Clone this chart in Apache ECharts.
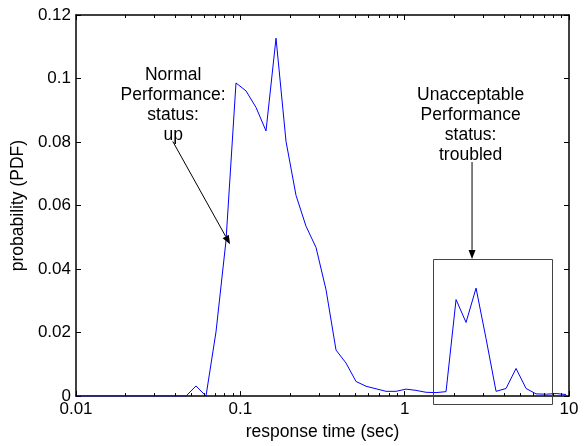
<!DOCTYPE html>
<html>
<head>
<meta charset="utf-8">
<script src="https://cdn.jsdelivr.net/npm/echarts@6/dist/echarts.min.js"></script>
<style>
html,body{margin:0;padding:0;background:#fff;}
#c{width:586px;height:446px;}
</style>
</head>
<body>
<div id="c"></div>
<script>
// response time bins (sec), log-spaced
const responseTimes = [
  0.0100, 0.0115, 0.0132, 0.0152, 0.0175, 0.0202, 0.0232, 0.0267, 0.0307, 0.0353,
  0.0406, 0.0467, 0.0537, 0.0618, 0.0711, 0.0818, 0.0941, 0.1083, 0.1246, 0.1433,
  0.1649, 0.1897, 0.2182, 0.2510, 0.2888, 0.3322, 0.3822, 0.4397, 0.5059, 0.5820,
  0.6695, 0.7702, 0.8861, 1.0194, 1.1727, 1.3491, 1.5524, 1.7855, 2.0545, 2.3632,
  2.7189, 3.1280, 3.5983, 4.1400, 4.7620, 5.4790, 6.3040, 7.2510, 8.3430, 9.5970
];
// probability (PDF)
const probability = [
  0, 0, 0, 0, 0, 0, 0, 0, 0, 0,
  0, 0, 0.0032, 0, 0.0202, 0.0489, 0.0986, 0.0961, 0.0909, 0.0835,
  0.1127, 0.0802, 0.0632, 0.0535, 0.0468, 0.0335, 0.0145, 0.0104, 0.0046, 0.0031,
  0.0023, 0.0015, 0.0015, 0.0022, 0.0018, 0.0012, 0.0011, 0.0014, 0.0304, 0.0232,
  0.0340, 0.0181, 0.0015, 0.0024, 0.0087, 0.0024, 0.0007, 0.0006, 0.0008, 0.0005
];
const xTickLabels = ['0.01', '0.1', '1', '10'];
const yTickLabels = ['0', '0.02', '0.04', '0.06', '0.08', '0.1', '0.12'];
const xMinorTicks = [0.02,0.03,0.04,0.05,0.06,0.07,0.08,0.09,0.2,0.3,0.4,0.5,0.6,0.7,0.8,0.9,2,3,4,5,6,7,8,9];

const FONT = '"Liberation Sans", Arial, Helvetica, sans-serif';
const chart = echarts.init(document.getElementById('c'), null, {renderer: 'canvas'});

const lineData = responseTimes.map((t, i) => [t, probability[i]]);

const axisCommon = {
  axisLine: {show: true, onZero: false, lineStyle: {color: '#000', width: 1.5}},
  splitLine: {show: false},
};

chart.setOption({
  animation: false,
  backgroundColor: '#fff',
  grid: {left: 76, right: 17, top: 15, bottom: 41, containLabel: false},
  xAxis: [
    Object.assign({
      type: 'log', logBase: 10, min: 0.01, max: 10, position: 'bottom',
      axisTick: {show: true, inside: true, length: 5, lineStyle: {color: '#000'}},
      axisLabel: {
        fontFamily: FONT, fontSize: 17, color: '#000', margin: 5,
        formatter: v => {
          const k = Math.round(Math.log10(v)) + 2;
          return xTickLabels[k] !== undefined ? xTickLabels[k] : '';
        }
      },
      name: 'response time (sec)', nameLocation: 'middle', nameGap: 23,
      nameTextStyle: {fontFamily: FONT, fontSize: 17.5, color: '#000'}
    }, axisCommon),
    Object.assign({
      type: 'log', logBase: 10, min: 0.01, max: 10, position: 'top',
      axisTick: {show: true, inside: true, length: 5, lineStyle: {color: '#000'}},
      axisLabel: {show: false}
    }, axisCommon)
  ],
  yAxis: [
    Object.assign({
      type: 'value', min: 0, max: 0.12, interval: 0.02, position: 'left',
      axisTick: {show: true, inside: true, length: 5, lineStyle: {color: '#000'}},
      axisLabel: {
        fontFamily: FONT, fontSize: 17, color: '#000', margin: 5,
        formatter: v => yTickLabels[Math.round(v / 0.02)]
      },
      name: 'probability (PDF)', nameLocation: 'middle', nameGap: 42,
      nameTextStyle: {fontFamily: FONT, fontSize: 17.5, color: '#000'}
    }, axisCommon),
    Object.assign({
      type: 'value', min: 0, max: 0.12, interval: 0.02, position: 'right',
      axisTick: {show: true, inside: true, length: 5, lineStyle: {color: '#000'}},
      axisLabel: {show: false}
    }, axisCommon)
  ],
  series: [
    {
      type: 'line', data: lineData, xAxisIndex: 0, yAxisIndex: 0,
      showSymbol: false, symbol: 'none',
      lineStyle: {color: '#0000ff', width: 1},
      z: 5
    },
    {
      type: 'custom', xAxisIndex: 0, yAxisIndex: 0, silent: true, clip: false,
      data: xMinorTicks.map(v => [v, 0]),
      renderItem: (params, api) => {
        const v = api.value(0);
        const b = api.coord([v, 0]);
        const t = api.coord([v, 0.12]);
        const x = Math.round(b[0]) + 0.5;
        return {
          type: 'group',
          children: [
            {type: 'line', shape: {x1: x, y1: b[1], x2: x, y2: b[1] - 3}, style: {stroke: '#000', lineWidth: 1}},
            {type: 'line', shape: {x1: x, y1: t[1], x2: x, y2: t[1] + 3}, style: {stroke: '#000', lineWidth: 1}}
          ]
        };
      },
      z: 6
    }
  ]
});

function px(x, y) { return chart.convertToPixel({xAxisIndex: 0, yAxisIndex: 0}, [x, y]); }

function arrow(from, to) {
  const dx = to[0] - from[0], dy = to[1] - from[1];
  const len = Math.sqrt(dx * dx + dy * dy);
  const ux = dx / len, uy = dy / len;
  const hl = 9, hw = 3.5;
  const bx = to[0] - ux * hl, by = to[1] - uy * hl;
  return [
    {type: 'line', silent: true, shape: {x1: from[0], y1: from[1], x2: bx, y2: by}, style: {stroke: '#000', lineWidth: 1}, z: 10},
    {type: 'polygon', silent: true, shape: {points: [[to[0], to[1]], [bx - uy * hw, by + ux * hw], [bx + uy * hw, by - ux * hw]]}, style: {fill: '#000'}, z: 10}
  ];
}

// annotation anchors in data coordinates
const normalText = px(0.0390, 0.0810);
const normalFrom = px(0.0388, 0.0802);
const normalTo = px(0.0866, 0.0478);
const badText = px(2.52, 0.0920);
const badFrom = px(2.57, 0.0737);
const badTo = px(2.57, 0.0432);
const boxTL = px(1.495, 0.0432);
const boxBR = px(7.93, -0.0024);

const textStyle = {fontFamily: FONT, fontSize: 17.5, fill: '#000', align: 'center', verticalAlign: 'top', lineHeight: 20};

chart.setOption({
  graphic: [
    {type: 'text', silent: true, x: normalText[0], y: 65, style: Object.assign({text: 'Normal\nPerformance:\nstatus:\nup'}, textStyle), z: 10},
    {type: 'text', silent: true, x: badText[0], y: 85, style: Object.assign({text: 'Unacceptable\nPerformance\nstatus:\ntroubled'}, textStyle), z: 10},
    ...arrow(normalFrom, normalTo),
    ...arrow(badFrom, badTo),
    {type: 'rect', silent: true,
      shape: {x: Math.round(boxTL[0]) + 0.5, y: Math.round(boxTL[1]) + 0.5,
              width: Math.round(boxBR[0] - boxTL[0]), height: Math.round(boxBR[1] - boxTL[1])},
      style: {fill: 'none', stroke: '#444', lineWidth: 1}, z: 10}
  ]
});
</script>
</body>
</html>
